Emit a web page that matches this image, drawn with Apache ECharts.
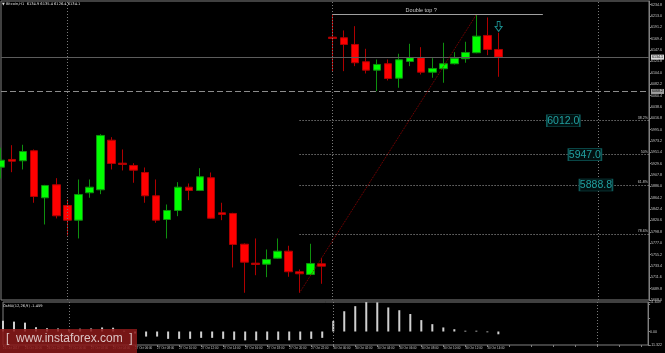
<!DOCTYPE html>
<html><head><meta charset="utf-8">
<script src="https://cdn.jsdelivr.net/npm/echarts@6/dist/echarts.min.js"></script>
<style>html,body{margin:0;padding:0;background:#000;}#c{width:665px;height:353px;}</style>
</head><body><div id="c"></div>
<script>
// ---- data ----
const times = [
 '2017.10.26 18:00','2017.10.26 19:00','2017.10.26 20:00','2017.10.26 21:00','2017.10.26 22:00','2017.10.26 23:00',
 '2017.10.27 00:00','2017.10.27 01:00','2017.10.27 02:00','2017.10.27 03:00','2017.10.27 04:00','2017.10.27 05:00',
 '2017.10.27 06:00','2017.10.27 07:00','2017.10.27 08:00','2017.10.27 09:00','2017.10.27 10:00','2017.10.27 11:00',
 '2017.10.27 12:00','2017.10.27 13:00','2017.10.27 14:00','2017.10.27 15:00','2017.10.27 16:00','2017.10.27 17:00',
 '2017.10.27 18:00','2017.10.27 19:00','2017.10.27 20:00','2017.10.27 21:00','2017.10.27 22:00','2017.10.27 23:00',
 '2017.10.30 00:00','2017.10.30 01:00','2017.10.30 02:00','2017.10.30 03:00','2017.10.30 04:00','2017.10.30 05:00',
 '2017.10.30 06:00','2017.10.30 07:00','2017.10.30 08:00','2017.10.30 09:00','2017.10.30 10:00','2017.10.30 11:00',
 '2017.10.30 12:00','2017.10.30 13:00','2017.10.30 14:00','2017.10.30 15:00'
];
const xTickLabels = ['26 Oct 2017','26 Oct 20:00','26 Oct 22:00','27 Oct 00:00','27 Oct 02:00','27 Oct 04:00',
 '27 Oct 06:00','27 Oct 08:00','27 Oct 10:00','27 Oct 12:00','27 Oct 14:00','27 Oct 16:00','27 Oct 18:00',
 '27 Oct 20:00','27 Oct 22:00','30 Oct 00:00','30 Oct 02:00','30 Oct 04:00','30 Oct 06:00','30 Oct 08:00',
 '30 Oct 10:00','30 Oct 12:00','30 Oct 14:00'];
const open  = [5922.9,5937.7,5935.2,5954.4,5864.2,5889.1,5849.4,5821.2,5873.8,5879.5,
               5974.7,5930.6,5926.2,5912.7,5868.0,5822.5,5839.8,5884.5,5878.2,5902.6,
               5835.4,5834.1,5775.1,5738.7,5736.8,5748.3,5761.7,5722.2,5717.0,5737.5,
               6172.4,6171.3,6158.4,6125.2,6109.1,6121.4,6093.7,6125.8,6132.9,6105.2,
               6111.8,6121.4,6131.0,6142.5,6175.7,6148.8];
const close = [5936.3,5934.4,5953.0,5866.7,5887.8,5829.6,5821.2,5870.5,5884.5,5983.8,
               5930.0,5928.1,5917.2,5868.0,5821.2,5839.8,5884.5,5878.2,5904.5,5825.0,
               5832.1,5774.6,5740.6,5736.2,5745.8,5761.7,5722.2,5718.3,5738.1,5732.9,
               6169.9,6158.4,6123.3,6109.1,6120.0,6093.1,6129.0,6132.9,6105.2,6112.3,
               6121.4,6131.5,6143.0,6174.3,6148.8,6134.1];
const low   = [5901.2,5913.3,5918.5,5854.6,5812.9,5824.5,5791.8,5786.1,5864.2,5871.1,
               5918.5,5916.6,5893.0,5854.6,5816.2,5786.1,5828.9,5859.6,5877.0,5824.0,
               5821.2,5730.4,5681.9,5715.6,5711.8,5747.1,5712.6,5681.9,5716.0,5699.1,
               6107.2,6107.2,6116.8,6102.7,6068.8,6089.3,6075.3,6116.8,6100.8,6094.5,
               6084.9,6120.0,6123.3,6141.5,6137.9,6096.4];
const high  = [5960.1,5965.1,5965.9,5956.9,5889.0,5901.8,5860.9,5899.3,5899.3,5986.2,
               5980.5,5956.9,5930.6,5922.3,5899.3,5851.3,5894.1,5891.6,5921.0,5912.7,
               5854.6,5835.4,5776.5,5786.1,5765.0,5786.1,5772.1,5726.6,5775.9,5749.0,
               6216.0,6185.3,6193.5,6150.1,6129.6,6129.6,6140.6,6159.7,6153.2,6132.1,
               6161.7,6143.6,6163.6,6216.0,6210.2,6180.9];
const osma  = [4.2,3.9,3.5,1.7,1.3,1.2,1.0,1.1,1.2,1.6,
               1.5,0.3,-0.8,-2.0,-2.0,-2.9,-2.9,-2.9,-2.5,-2.5,
               -2.9,-3.3,-3.5,-3.5,-3.3,-3.3,-3.5,-3.3,-2.9,-2.5,
               4.2,8.0,10.0,11.6,11.5,9.5,8.4,6.9,4.5,2.9,
               1.6,0.9,0.3,0.3,-0.3,-1.1];
const fibLevels   = [6012.0, 5947.0, 5888.8, 5795.1];
const fibPercents = ['38.2%', '50%', '61.8%', '78.6%'];
const fibBoxTexts = ['6012.0', '5947.0', '5888.8'];
const bidPrice = 6134.1;
const dashedLevel = 6068.2;
const doubleTopLevel = 6216.0;
const swingLow = 5681.9;
const swingLowIdx = 27, swingHighIdx = 43;
const daySeparators = [6, 30, 54];
const osmaAxisLabels = ['11.649', '0.00', '-11.322'];
const headerText = '\u25BC Bitcoin,H1  6134.9 6135.4 6126.4 6134.1';
const osmaTitle = 'OsMA(12,26,9) -1.459';
const doubleTopText = 'Double top ?';

// ---- chart ----
const candleData = times.map((t, i) => [i, open[i], close[i], low[i], high[i]]);
const osmaData = osma.map((v, i) => [i, v]);
const X_MAX = 58.6;
const P_MIN = 5668.0, P_MAX = 6241.8, P_STEP = 21.8;
const O_MIN = -5.33, O_MAX = 11.649, O_STEP = 5.33;
const gray = '#808080';
const txt = '#c8c8c8';

const sepLines = daySeparators.map(d => ({xAxis: d, lineStyle: {type: [1, 2], color: '#7a7a7a', width: 1}}));

const fibLines = fibLevels.map((lv, k) => [
  {coord: [swingLowIdx, lv]},
  {coord: [X_MAX, lv], lineStyle: {type: [1, 2], color: '#a8a8a8', width: 1},
   label: {show: true, position: 'insideEndTop', formatter: fibPercents[k], fontSize: 3.6, color: txt, distance: 1}}
]);
const fibBoxX = [50.85, 52.8, 53.8];
const fibBoxes = fibBoxTexts.map((t, k) => ({
  coord: [fibBoxX[k], fibLevels[k]], symbol: 'rect', symbolSize: [33, 12],
  itemStyle: {color: '#021010', borderColor: '#0d5a5a', borderWidth: 1},
  label: {show: true, position: 'inside', formatter: t, color: '#21a0a0', fontSize: 10.5, fontFamily: 'Liberation Sans, Arial, sans-serif'}
}));

const chart = echarts.init(document.getElementById('c'), null, {renderer: 'canvas'});
chart.setOption({
  backgroundColor: '#000',
  animation: false,
  grid: [
    {left: 1, right: 13, top: 1, height: 299, show: true, borderColor: gray, borderWidth: 1, backgroundColor: 'transparent'},
    {left: 1, right: 13, top: 302, height: 43, show: true, borderColor: gray, borderWidth: 1, backgroundColor: 'transparent'}
  ],
  xAxis: [
    {type: 'value', gridIndex: 0, min: 0, max: X_MAX, show: false, axisLine: {onZero: false}},
    {type: 'value', gridIndex: 1, min: 0, max: X_MAX, interval: 2, position: 'bottom',
     axisLine: {show: false, onZero: false}, splitLine: {show: false},
     axisTick: {show: true, length: 2, lineStyle: {color: gray}},
     axisLabel: {fontSize: 3, color: txt, align: 'left', margin: 2, showMaxLabel: false, showMinLabel: true,
       formatter: v => (Number.isInteger(v) && v % 2 === 0 && xTickLabels[v / 2]) || ''}}
  ],
  yAxis: [
    {type: 'value', gridIndex: 0, position: 'right', min: P_MIN, max: P_MAX, interval: P_STEP,
     axisLine: {show: true, onZero: false, lineStyle: {color: gray}},
     axisTick: {show: true, length: 2, lineStyle: {color: gray}},
     splitLine: {show: false},
     axisLabel: {fontSize: 3.6, color: txt, margin: 2, showMaxLabel: false, formatter: v => v.toFixed(1)}},
    {type: 'value', gridIndex: 1, position: 'right', min: O_MIN, max: O_MAX, interval: O_STEP,
     axisLine: {show: true, onZero: false, lineStyle: {color: gray}},
     axisTick: {show: true, length: 2, lineStyle: {color: gray}},
     splitLine: {show: false},
     axisLabel: {fontSize: 3.6, color: txt, margin: 2, showMinLabel: true, showMaxLabel: true,
       formatter: v => Math.abs(v - O_MAX) < 1e-6 ? osmaAxisLabels[0] : (Math.abs(v) < 1e-6 ? osmaAxisLabels[1] : (Math.abs(v - O_MIN) < 1e-6 ? osmaAxisLabels[2] : ''))}}
  ],
  series: [
    {
      type: 'candlestick', xAxisIndex: 0, yAxisIndex: 0,
      data: candleData, barWidth: 8,
      itemStyle: {color: '#00ff00', color0: '#ff0000', borderColor: '#0e900e', borderColor0: '#b00000', borderWidth: 1},
      markLine: {
        silent: true, symbol: ['none', 'none'], animation: false,
        label: {show: false},
        data: [
          ...sepLines,
          {yAxis: bidPrice, lineStyle: {type: 'solid', color: '#5c5c5c', width: 1},
           label: {show: true, position: 'end', distance: 2, formatter: bidPrice.toFixed(1), fontSize: 3.6, color: '#000', backgroundColor: '#d8d8d8', padding: [0.5, 1]}},
          {yAxis: dashedLevel, lineStyle: {type: [6, 3], color: '#8c8c8c', width: 1},
           label: {show: true, position: 'end', distance: 2, formatter: dashedLevel.toFixed(1), fontSize: 3.6, color: '#000', backgroundColor: '#a0a0a0', padding: [0.5, 1]}},
          [{coord: [30, doubleTopLevel]}, {coord: [49, doubleTopLevel], lineStyle: {type: 'solid', color: '#a0a0a0', width: 1}}],
          [{coord: [swingLowIdx, swingLow]}, {coord: [swingHighIdx, doubleTopLevel], lineStyle: {type: [1, 1], color: '#8b0000', width: 1}}],
          ...fibLines
        ]
      },
      markPoint: {
        silent: true, animation: false,
        data: [
          ...fibBoxes,
          {coord: [45, 6192.9], symbol: 'path://M3,0 L7,0 L7,6 L10,6 L5,12 L0,6 L3,6 Z', symbolSize: [7, 10],
           itemStyle: {color: 'rgba(0,0,0,0)', borderColor: '#1a8c8c', borderWidth: 1}, label: {show: false}},
          {coord: [38.0, 6222.7], symbolSize: 0,
           label: {show: true, position: 'inside', formatter: doubleTopText, color: '#c8c8c8', fontSize: 5.5, fontFamily: 'Liberation Sans, Arial, sans-serif'}}
        ]
      }
    },
    {
      type: 'bar', xAxisIndex: 1, yAxisIndex: 1, data: osmaData, barWidth: 2,
      itemStyle: {color: '#d0d0d0'},
      markLine: {silent: true, symbol: ['none', 'none'], animation: false, label: {show: false}, data: sepLines}
    }
  ],
  graphic: [
    {type: 'text', left: 2, top: 2, z: 100, style: {text: headerText, fill: '#e0e0e0', font: '3.6px "DejaVu Sans", sans-serif'}},
    {type: 'text', left: 3, top: 304, z: 100, style: {text: osmaTitle, fill: '#e0e0e0', font: '3.6px "DejaVu Sans", sans-serif'}},
    {type: 'rect', left: 0, top: 329, z: 100, shape: {width: 137, height: 24}, style: {fill: 'rgba(140,26,26,0.85)'}},
    {type: 'text', left: 6, top: 333, z: 101, style: {text: '[  www.instaforex.com  ]', fill: '#dcc4c4', font: '12px "Liberation Sans", Arial, sans-serif'}}
  ]
});
</script>
</body></html>
